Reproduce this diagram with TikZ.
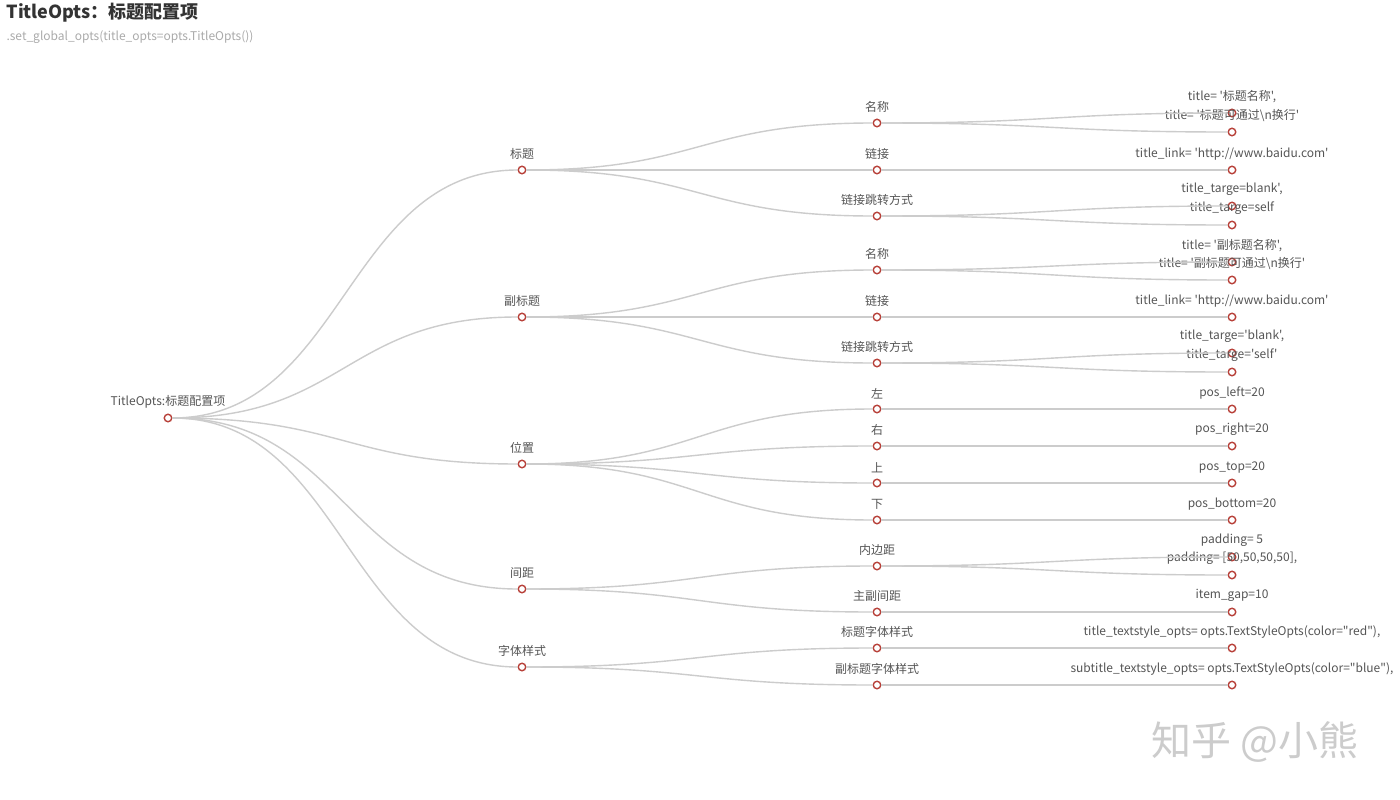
\documentclass[tikz,border=0pt]{standalone}
\usepackage{fontspec}
\setmainfont{Noto Sans CJK SC}[Ligatures=TeXOff]
\usepackage{xcolor}
\usepackage{tikz}
\usetikzlibrary{calc}
\definecolor{treeline}{HTML}{CCCCCC}
\definecolor{treedot}{HTML}{B8413A}
\definecolor{treetext}{HTML}{555555}
\definecolor{headink}{HTML}{333333}
\definecolor{subink}{HTML}{AAAAAA}
\newcommand{\branch}[2]{\draw[link] let \p1=(#1),\p2=(#2) in
  (#1) .. controls ({0.5*\x1+0.5*\x2},\y1) and ({0.5*\x1+0.5*\x2},\y2) .. (#2);}

\begin{document}
\begin{tikzpicture}[
  x=1pt,y=-1pt,
  font=\fontsize{12}{14}\selectfont,
  dot/.style={circle,draw=treedot,fill=white,line width=1.4pt,
              minimum size=7.5pt,inner sep=0pt,
              label={[lbl]above:#1}},
  lbl/.style={text=treetext,inner sep=1pt,label distance=4.5pt},
  link/.style={treeline,line width=1.4pt}
]
\useasboundingbox[fill=white] (0,0) rectangle (1400,800);

% heading
\node[anchor=west,text=headink,font=\fontsize{18}{21}\selectfont\bfseries] (head) at (3,13) {TitleOpts：标题配置项};
\node[anchor=west,text=subink,font=\fontsize{12}{14}\selectfont] (subhead) at (3,37) {.set\_global\_opts(title\_opts=opts.TitleOpts())};

% root and first level
\node[dot=TitleOpts:标题配置项] (root) at (168,418) {};
\node[dot=标题] (t) at (522,170) {};
\node[dot=副标题] (st) at (522,317) {};
\node[dot=位置] (pos) at (522,464) {};
\node[dot=间距] (gap) at (522,589) {};
\node[dot=字体样式] (font) at (522,667) {};

% second level
\node[dot=名称] (tname) at (877,123) {};
\node[dot=链接] (tlink) at (877,170) {};
\node[dot=链接跳转方式] (ttarget) at (877,216) {};
\node[dot=名称] (sname) at (877,270) {};
\node[dot=链接] (slink) at (877,317) {};
\node[dot=链接跳转方式] (starget) at (877,363) {};
\node[dot=左] (pleft) at (877,409) {};
\node[dot=右] (pright) at (877,446) {};
\node[dot=上] (ptop) at (877,483) {};
\node[dot=下] (pbottom) at (877,520) {};
\node[dot=内边距] (pad) at (877,566) {};
\node[dot=主副间距] (igap) at (877,612) {};
\node[dot=标题字体样式] (tfont) at (877,648) {};
\node[dot=副标题字体样式] (sfont) at (877,685) {};

% leaves
\node[dot={title= '标题名称',}] (tnamea) at (1232,113) {};
\node[dot={title= '标题可通过\textbackslash n换行'}] (tnameb) at (1232,132) {};
\node[dot={title\_link= 'http://www.baidu.com'}] (tlinka) at (1232,170) {};
\node[dot={title\_targe=blank',}] (ttargeta) at (1232,206) {};
\node[dot={title\_targe=self}] (ttargetb) at (1232,225) {};
\node[dot={title= '副标题名称',}] (snamea) at (1232,262) {};
\node[dot={title= '副标题可通过\textbackslash n换行'}] (snameb) at (1232,280) {};
\node[dot={title\_link= 'http://www.baidu.com'}] (slinka) at (1232,317) {};
\node[dot={title\_targe='blank',}] (stargeta) at (1232,353) {};
\node[dot={title\_targe='self'}] (stargetb) at (1232,372) {};
\node[dot={pos\_left=20}] (plefta) at (1232,409) {};
\node[dot={pos\_right=20}] (prighta) at (1232,446) {};
\node[dot={pos\_top=20}] (ptopa) at (1232,483) {};
\node[dot={pos\_bottom=20}] (pbottoma) at (1232,520) {};
\node[dot={padding= 5}] (pada) at (1232,557) {};
\node[dot={padding= [50,50,50,50],}] (padb) at (1232,575) {};
\node[dot={item\_gap=10}] (igapa) at (1232,612) {};
\node[dot={title\_textstyle\_opts= opts.TextStyleOpts(color="red"),}] (tfonta) at (1232,648) {};
\node[dot={subtitle\_textstyle\_opts= opts.TextStyleOpts(color="blue"),}] (sfonta) at (1232,685) {};

% links
\branch{root}{t} \branch{root}{st} \branch{root}{pos} \branch{root}{gap} \branch{root}{font}
\branch{t}{tname} \branch{t}{tlink} \branch{t}{ttarget}
\branch{st}{sname} \branch{st}{slink} \branch{st}{starget}
\branch{pos}{pleft} \branch{pos}{pright} \branch{pos}{ptop} \branch{pos}{pbottom}
\branch{gap}{pad} \branch{gap}{igap}
\branch{font}{tfont} \branch{font}{sfont}
\branch{tname}{tnamea} \branch{tname}{tnameb} \branch{tlink}{tlinka}
\branch{ttarget}{ttargeta} \branch{ttarget}{ttargetb}
\branch{sname}{snamea} \branch{sname}{snameb} \branch{slink}{slinka}
\branch{starget}{stargeta} \branch{starget}{stargetb}
\branch{pleft}{plefta} \branch{pright}{prighta} \branch{ptop}{ptopa} \branch{pbottom}{pbottoma}
\branch{pad}{pada} \branch{pad}{padb} \branch{igap}{igapa}
\branch{tfont}{tfonta} \branch{sfont}{sfonta}

% watermark
\node[text=gray!40,font=\fontsize{40}{44}\selectfont] (mark) at (1255,742) {知乎 @小熊};
\end{tikzpicture}
\end{document}
